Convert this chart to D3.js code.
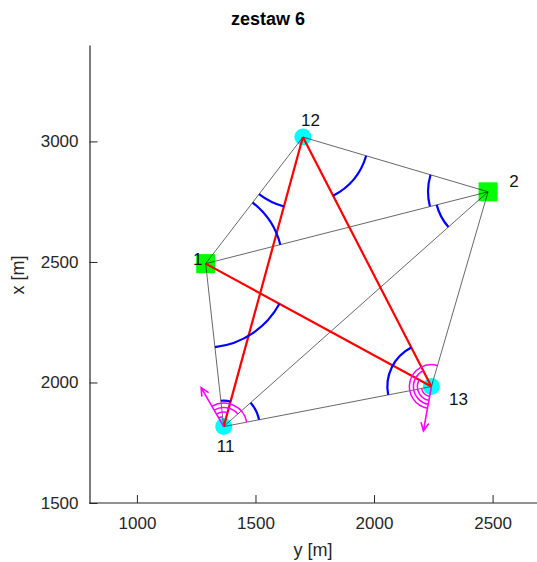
<!DOCTYPE html>
<html>
<head>
<meta charset="utf-8">
<script src="https://cdn.jsdelivr.net/npm/d3@7"></script>
<style>
  html, body { margin: 0; padding: 0; background: #fff; }
  svg { display: block; font-family: "Liberation Sans", Arial, Helvetica, sans-serif; }
</style>
</head>
<body>
<svg id="chart" width="537" height="562"></svg>
<script>
// ---------------- data ----------------
const title = "zestaw 6";
const xAxisLabel = "y [m]";
const yAxisLabel = "x [m]";
const xTicks = [1000, 1500, 2000, 2500];
const yTicks = [1500, 2000, 2500, 3000];
const xDomain = [800, 2700];
const yDomain = [1500, 3400];

// stations: easting (y) and northing (x) in metres
const stationNames = ["1", "2", "11", "12", "13"];
const stationY = [1290, 2481, 1366, 1700, 2242];
const stationX = [2493, 2791, 1817, 3018, 1983];
const stationKind = ["fixed", "fixed", "new", "new", "new"];

// thin observation lines
const lineFrom = ["1", "12", "1", "2", "13", "11", "2", "11", "12", "1"];
const lineTo   = ["12", "2", "2", "13", "11", "1", "11", "12", "13", "13"];

// red (distance) lines
const redFrom = ["11", "12", "1"];
const redTo   = ["12", "13", "13"];

// measured angles: vertex, first arm, second arm
const angleVertex = ["1", "1", "12", "12", "2", "2", "13", "11", "11"];
const angleArmA   = ["12", "13", "1", "13", "12", "1", "12", "1", "2"];
const angleArmB   = ["2", "11", "11", "2", "1", "11", "11", "12", "13"];

// direction sets: station, orientation azimuth (deg), targets
const dirStation = ["11", "13"];
const dirAzimuth = [329.5, 190.4];
const dirTargets = [["1", "12", "2", "13"], ["11", "1", "12", "2"]];

// ---------------- style ----------------
const angleRadiusPx = [77, 84, 72, 66, 60, 53, 44, 26, 36];
const dirArcRadiusPx = [[10, 14.5, 19, 23.5], [10, 14, 18, 22]];
const arrowLenPx = 45;
const labelOffset = {"1": [-8, 1], "2": [26, -4.5], "11": [2, 25], "12": [7.5, -11.5], "13": [27, 18]};

const svg = d3.select("#chart");
const plot = { left: 89.5, right: 540, top: 45, bottom: 503 };

const x = d3.scaleLinear().domain(xDomain).range([plot.left, plot.right]);
const y = d3.scaleLinear().domain(yDomain).range([plot.bottom, plot.top]);

const idx = n => stationNames.indexOf(n);
const P = n => [x(stationY[idx(n)]), y(stationX[idx(n)])];
const ang = (a, b) => Math.atan2(b[1] - a[1], b[0] - a[0]);

function arcPath(c, r, t0, sweep) {
  const t1 = t0 + sweep;
  const p0 = [c[0] + r * Math.cos(t0), c[1] + r * Math.sin(t0)];
  const p1 = [c[0] + r * Math.cos(t1), c[1] + r * Math.sin(t1)];
  return `M${p0[0]},${p0[1]} A${r},${r} 0 ${sweep > Math.PI ? 1 : 0} 1 ${p1[0]},${p1[1]}`;
}

const g = svg.append("g");

// markers first (lines are drawn over them)
const stations = stationNames.map((n, i) => ({ name: n, kind: stationKind[i], p: P(n) }));
g.selectAll("circle.st").data(stations.filter(d => d.kind === "new")).join("circle")
  .attr("class", "st").attr("cx", d => d.p[0]).attr("cy", d => d.p[1]).attr("r", 8.5)
  .attr("fill", "#00ffff");
g.selectAll("rect.st").data(stations.filter(d => d.kind === "fixed")).join("rect")
  .attr("class", "st").attr("x", d => d.p[0] - 9.5).attr("y", d => d.p[1] - 9.5)
  .attr("width", 19).attr("height", 19).attr("fill", "#00ff00");

// thin lines
g.selectAll("line.thin").data(lineFrom.map((f, i) => [P(f), P(lineTo[i])])).join("line")
  .attr("class", "thin")
  .attr("x1", d => d[0][0]).attr("y1", d => d[0][1]).attr("x2", d => d[1][0]).attr("y2", d => d[1][1])
  .attr("stroke", "#000").attr("stroke-width", 0.6);

// red lines
g.selectAll("line.red").data(redFrom.map((f, i) => [P(f), P(redTo[i])])).join("line")
  .attr("class", "red")
  .attr("x1", d => d[0][0]).attr("y1", d => d[0][1]).attr("x2", d => d[1][0]).attr("y2", d => d[1][1])
  .attr("stroke", "#ff0000").attr("stroke-width", 2.2);

// blue angle arcs
const angleData = angleVertex.map((v, i) => {
  const c = P(v);
  let t0 = ang(c, P(angleArmA[i])), t1 = ang(c, P(angleArmB[i]));
  let d = t1 - t0;
  while (d > Math.PI) d -= 2 * Math.PI;
  while (d <= -Math.PI) d += 2 * Math.PI;
  if (d < 0) { t0 = t1; d = -d; }
  return arcPath(c, angleRadiusPx[i], t0, d);
});
g.selectAll("path.angle").data(angleData).join("path")
  .attr("class", "angle").attr("d", d => d)
  .attr("fill", "none").attr("stroke", "#0000ff").attr("stroke-width", 2.2);

// magenta direction sets
dirStation.forEach((s, k) => {
  const c = P(s);
  const az = dirAzimuth[k] * Math.PI / 180;
  const vx = Math.sin(az) * (x(1) - x(0));
  const vy = Math.cos(az) * (y(1) - y(0));
  const t0 = Math.atan2(vy, vx);
  const arcs = dirTargets[k].map((t, j) => {
    let sw = ang(c, P(t)) - t0;
    while (sw <= 0) sw += 2 * Math.PI;
    while (sw > 2 * Math.PI) sw -= 2 * Math.PI;
    return arcPath(c, dirArcRadiusPx[k][j], t0, sw);
  });
  g.selectAll(null).data(arcs).join("path").attr("d", d => d)
    .attr("fill", "none").attr("stroke", "#ff00ff").attr("stroke-width", 1.5);
  const tip = [c[0] + arrowLenPx * Math.cos(t0), c[1] + arrowLenPx * Math.sin(t0)];
  const head = 9, spread = 0.45;
  const h1 = [tip[0] - head * Math.cos(t0 - spread), tip[1] - head * Math.sin(t0 - spread)];
  const h2 = [tip[0] - head * Math.cos(t0 + spread), tip[1] - head * Math.sin(t0 + spread)];
  g.append("path")
    .attr("d", `M${c[0]},${c[1]} L${tip[0]},${tip[1]} M${h1[0]},${h1[1]} L${tip[0]},${tip[1]} L${h2[0]},${h2[1]}`)
    .attr("fill", "none").attr("stroke", "#ff00ff").attr("stroke-width", 1.6);
});

// station labels
g.selectAll("text.lab").data(stations).join("text")
  .attr("class", "lab")
  .attr("x", d => d.p[0] + labelOffset[d.name][0])
  .attr("y", d => d.p[1] + labelOffset[d.name][1])
  .attr("text-anchor", "middle").attr("font-size", 17).attr("fill", "#111")
  .text(d => d.name);

// axes
const axisColor = "#262626";
const fmt = d3.format("d");
const xAxis = svg.append("g").attr("transform", `translate(0,${plot.bottom})`)
  .call(d3.axisBottom(x).tickValues(xTicks).tickFormat(fmt).tickSize(-8).tickPadding(14).tickSizeOuter(0));
const yAxis = svg.append("g").attr("transform", `translate(${plot.left},0)`)
  .call(d3.axisLeft(y).tickValues(yTicks).tickFormat(fmt).tickSize(-8).tickPadding(11).tickSizeOuter(0));
[xAxis, yAxis].forEach(a => {
  a.select(".domain").attr("stroke", axisColor).attr("stroke-width", 1.2);
  a.selectAll(".tick line").attr("stroke", axisColor).attr("stroke-width", 1);
  a.selectAll(".tick text").attr("fill", axisColor).attr("font-size", 17)
    .attr("font-family", "Liberation Sans, Arial, Helvetica, sans-serif");
});
xAxis.select(".domain").attr("d", `M${plot.left},0H${plot.right}`);

svg.append("text").attr("x", 313).attr("y", 556).attr("text-anchor", "middle")
  .attr("font-size", 18).attr("fill", axisColor).text(xAxisLabel);
svg.append("text").attr("transform", "translate(24,275) rotate(-90)").attr("text-anchor", "middle")
  .attr("font-size", 18).attr("fill", axisColor).text(yAxisLabel);
svg.append("text").attr("x", 268).attr("y", 25).attr("text-anchor", "middle")
  .attr("font-size", 18).attr("font-weight", "bold").attr("fill", "#000").text(title);
</script>
</body>
</html>
